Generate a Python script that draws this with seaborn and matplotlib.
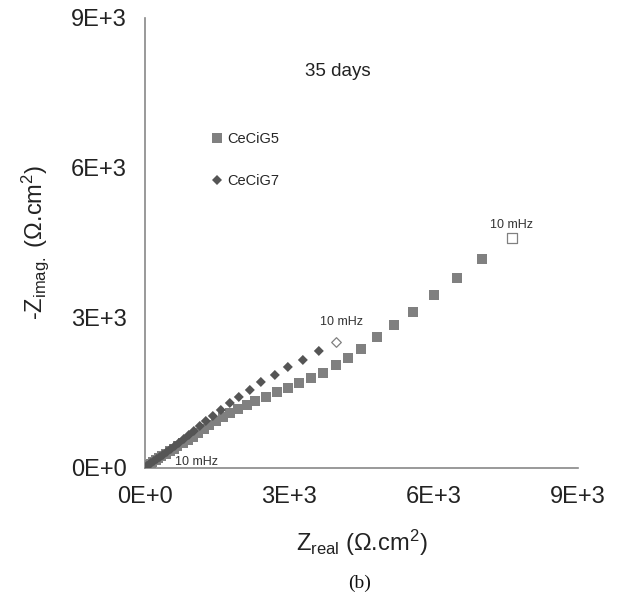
import matplotlib
matplotlib.use("Agg")
import matplotlib.pyplot as plt
import seaborn as sns
import pandas as pd
from matplotlib.lines import Line2D

# ---- data ----
g5_x = [7006, 6486, 6008, 5572, 5177, 4823, 4491, 4220, 3971, 3701, 3451, 3202,
        2973, 2744, 2516, 2287, 2121, 1933, 1767, 1622, 1476, 1351, 1227, 1102,
        998, 894, 790, 686, 603, 520, 437, 353, 291, 229, 166, 125, 83, 42, 21]
g5_y = [4180, 3800, 3460, 3120, 2860, 2620, 2380, 2200, 2060, 1900, 1800, 1700,
        1600, 1520, 1420, 1340, 1260, 1180, 1100, 1020, 940, 860, 780, 700,
        620, 560, 500, 440, 380, 340, 280, 240, 200, 160, 120, 80, 60, 40, 20]
g5_last = (7630, 4600)

g7_x = [3617, 3285, 2973, 2703, 2412, 2183, 1954, 1767, 1580, 1414, 1268, 1143,
        1019, 915, 811, 707, 624, 541, 457, 374, 312, 249, 187, 125, 83, 42]
g7_y = [2340, 2160, 2020, 1860, 1720, 1560, 1420, 1300, 1160, 1040, 940, 840,
        740, 660, 580, 500, 440, 380, 320, 260, 220, 180, 140, 100, 60, 40]
g7_last = (3971, 2520)

series = ["CeCiG5", "CeCiG7"]
ticks = [0, 3000, 6000, 9000]
tick_labels = ["0E+0", "3E+3", "6E+3", "9E+3"]
freq_labels = ["10 mHz", "10 mHz", "10 mHz"]
freq_pos_x = [7620, 4096, 1081]
freq_pos_y = [4860, 2920, 120]

df5 = pd.DataFrame({"x": g5_x, "y": g5_y})
df7 = pd.DataFrame({"x": g7_x, "y": g7_y})

sns.set_style("white")
plt.rcParams["font.family"] = ["Liberation Sans", "DejaVu Sans"]
plt.rcParams["mathtext.fontset"] = "custom"
plt.rcParams["mathtext.rm"] = "Liberation Sans"
plt.rcParams["mathtext.it"] = "Liberation Sans:italic"
plt.rcParams["mathtext.bf"] = "Liberation Sans:bold"

c5 = "#808080"
c7 = "#555555"

fig = plt.figure(figsize=(6.35, 6.01), dpi=100)
ax = fig.add_axes([0.228, 0.2213, 0.682, 0.749])

sns.scatterplot(data=df5, x="x", y="y", ax=ax, marker="s", s=46, color=c5,
                edgecolor="none", zorder=3)
sns.scatterplot(data=df7, x="x", y="y", ax=ax, marker="D", s=26, color=c7,
                edgecolor="none", zorder=4)
ax.scatter([g5_last[0]], [g5_last[1]], marker="s", s=44, facecolor="white",
           edgecolor=c5, linewidth=0.9, zorder=5)
ax.scatter([g7_last[0]], [g7_last[1]], marker="D", s=24, facecolor="white",
           edgecolor=c5, linewidth=0.9, zorder=5)

for lab, fx, fy in zip(freq_labels, freq_pos_x, freq_pos_y):
    ax.text(fx, fy, lab, fontsize=9, color="#333333", ha="center", va="center")

ax.text(0.446, 0.88, "35 days", transform=ax.transAxes, fontsize=13.5,
        color="#222222", ha="center", va="center")

ax.set_xlim(0, 9000)
ax.set_ylim(0, 9000)
ax.set_xticks(ticks)
ax.set_yticks(ticks)
ax.set_xticklabels(tick_labels)
ax.set_yticklabels(tick_labels)
ax.tick_params(axis="both", direction="inout", length=8, width=1,
               color="#888888", labelsize=17, labelcolor="#222222", pad=9)

for side in ["top", "right"]:
    ax.spines[side].set_visible(False)
for side in ["left", "bottom"]:
    ax.spines[side].set_color("#888888")
    ax.spines[side].set_linewidth(1.2)

ax.set_xlabel(r"Z$_\mathregular{real}$ (Ω.cm$^\mathregular{2}$)", fontsize=17,
              color="#222222", labelpad=14)
ax.set_ylabel(r"-Z$_\mathregular{imag.}$ (Ω.cm$^\mathregular{2}$)", fontsize=17,
              color="#222222", labelpad=14)

handles = [
    Line2D([], [], marker="s", linestyle="none", color=c5, markersize=7,
           markeredgewidth=0),
    Line2D([], [], marker="D", linestyle="none", color=c7, markersize=5,
           markeredgewidth=0),
]
ax.legend(handles, series, loc="upper left", bbox_to_anchor=(0.139, 0.759),
          frameon=False, fontsize=10.5, handlelength=0.8, handletextpad=0.3,
          labelspacing=1.9, borderaxespad=0)

fig.text(0.567, 0.03, "(b)", fontsize=14, family="Liberation Serif",
         ha="center", va="center", color="#111111")

fig.savefig("out.png", dpi=100)
